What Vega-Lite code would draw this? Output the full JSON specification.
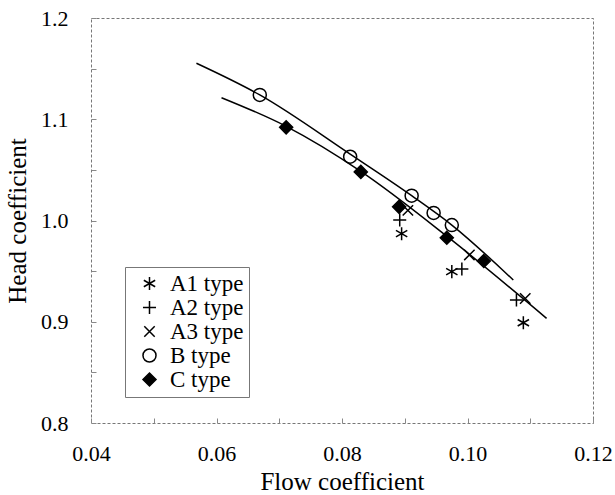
{
  "$schema": "https://vega.github.io/schema/vega-lite/v6.json",
  "width": 502,
  "height": 405,
  "autosize": {"type": "none"},
  "padding": {"left": 91, "top": 18, "right": 22, "bottom": 72},
  "background": "white",
  "config": {
    "view": {"stroke": "#777", "strokeDash": [3, 2], "strokeWidth": 1},
    "axis": {
      "labelFont": "Liberation Serif",
      "labelFontSize": 22,
      "labelColor": "black",
      "labelFlush": false,
      "titleFont": "Liberation Serif",
      "titleFontSize": 25,
      "titleFontWeight": "normal",
      "titleColor": "black",
      "domain": false,
      "grid": false,
      "tickColor": "#888",
      "tickSize": -5,
      "tickWidth": 1
    },
    "legend": {
      "labelFont": "Liberation Serif",
      "labelFontSize": 23,
      "labelColor": "black"
    }
  },
  "datasets": {
    "points": [
      {"series": "A1 type", "flow": 0.0895, "head": 0.987},
      {"series": "A1 type", "flow": 0.0975, "head": 0.9495},
      {"series": "A1 type", "flow": 0.1089, "head": 0.899},
      {"series": "A2 type", "flow": 0.0892, "head": 1.0005},
      {"series": "A2 type", "flow": 0.0991, "head": 0.952},
      {"series": "A2 type", "flow": 0.1078, "head": 0.9215},
      {"series": "A3 type", "flow": 0.0905, "head": 1.01},
      {"series": "A3 type", "flow": 0.1003, "head": 0.966},
      {"series": "A3 type", "flow": 0.1092, "head": 0.923},
      {"series": "B type", "flow": 0.0669, "head": 1.124},
      {"series": "B type", "flow": 0.0813, "head": 1.063},
      {"series": "B type", "flow": 0.0911, "head": 1.0245},
      {"series": "B type", "flow": 0.0946, "head": 1.0075},
      {"series": "B type", "flow": 0.0975, "head": 0.9955},
      {"series": "C type", "flow": 0.0711, "head": 1.092},
      {"series": "C type", "flow": 0.083, "head": 1.048},
      {"series": "C type", "flow": 0.0891, "head": 1.0135},
      {"series": "C type", "flow": 0.0967, "head": 0.983},
      {"series": "C type", "flow": 0.1026, "head": 0.96}
    ],
    "curves": [
      {"curve": "upper", "flow": 0.0568, "head": 1.1553},
      {"curve": "upper", "flow": 0.0669, "head": 1.124},
      {"curve": "upper", "flow": 0.0813, "head": 1.0655},
      {"curve": "upper", "flow": 0.0911, "head": 1.0245},
      {"curve": "upper", "flow": 0.0975, "head": 0.9955},
      {"curve": "upper", "flow": 0.1073, "head": 0.9412},
      {"curve": "lower", "flow": 0.0608, "head": 1.1213},
      {"curve": "lower", "flow": 0.0711, "head": 1.093},
      {"curve": "lower", "flow": 0.083, "head": 1.0485},
      {"curve": "lower", "flow": 0.0967, "head": 0.9845},
      {"curve": "lower", "flow": 0.1126, "head": 0.9034}
    ]
  },
  "layer": [
    {
      "data": {"name": "curves"},
      "mark": {"type": "line", "stroke": "black", "strokeWidth": 1.5, "interpolate": "monotone"},
      "encoding": {
        "x": {"field": "flow", "type": "quantitative"},
        "y": {"field": "head", "type": "quantitative"},
        "detail": {"field": "curve"}
      }
    },
    {
      "data": {"name": "points"},
      "mark": {"type": "point", "filled": false, "stroke": "black", "strokeWidth": 1.5, "size": 170, "opacity": 1},
      "encoding": {
        "x": {
          "field": "flow", "type": "quantitative",
          "scale": {"domain": [0.04, 0.12], "nice": false, "zero": false},
          "axis": {
            "title": "Flow coefficient",
            "values": [0.04, 0.05, 0.06, 0.07, 0.08, 0.09, 0.1, 0.11, 0.12],
            "format": ".2f",
            "labelExpr": "round(datum.value*100) % 2 == 0 ? datum.label : ''",
            "labelPadding": 25,
            "titlePadding": 5
          }
        },
        "y": {
          "field": "head", "type": "quantitative",
          "scale": {"domain": [0.8, 1.2], "nice": false, "zero": false},
          "axis": {
            "title": "Head coefficient",
            "values": [0.8, 0.85, 0.9, 0.95, 1.0, 1.05, 1.1, 1.15, 1.2],
            "format": ".1f",
            "labelExpr": "round(datum.value*100) % 10 == 0 ? datum.label : ''",
            "labelPadding": 28,
            "titlePadding": 10
          }
        },
        "shape": {
          "field": "series", "type": "nominal",
          "scale": {
            "domain": ["A1 type", "A2 type", "A3 type", "B type", "C type"],
            "range": [
              "M0,-1L0,1M-0.87,-0.5L0.87,0.5M-0.87,0.5L0.87,-0.5",
              "M-1,0L1,0M0,-1L0,1",
              "M-0.8,-0.8L0.8,0.8M-0.8,0.8L0.8,-0.8",
              "circle",
              "diamond"
            ]
          },
          "legend": {
            "title": null,
            "orient": "none",
            "legendX": 34,
            "legendY": 249,
            "padding": 5,
            "symbolOffset": 8,
            "symbolSize": 170,
            "rowPadding": 0,
            "labelOffset": 9,
            "labelFontSize": 23,
            "strokeColor": "#777",
            "fillColor": "white",
            "encode": {
              "legend": {"update": {"strokeDash": {"value": [3, 2]}}},
              "labels": {"update": {"text": {"signal": "datum.label + '\u00a0\u00a0\u00a0\u00a0\u00a0\u00a0\u00a0\u00a0\u00a0\u00a0\u00a0\u00a0\u200b'"}}},
              "symbols": {"update": {
                "stroke": {"value": "black"},
                "strokeWidth": {"value": 1.5},
                "opacity": {"value": 1},
                "fill": {"signal": "datum.value == 'C type' ? 'black' : 'transparent'"}
              }}
            }
          }
        },
        "fill": {
          "field": "series", "type": "nominal",
          "scale": {
            "domain": ["A1 type", "A2 type", "A3 type", "B type", "C type"],
            "range": ["transparent", "transparent", "transparent", "transparent", "black"]
          },
          "legend": null
        }
      }
    }
  ]
}
